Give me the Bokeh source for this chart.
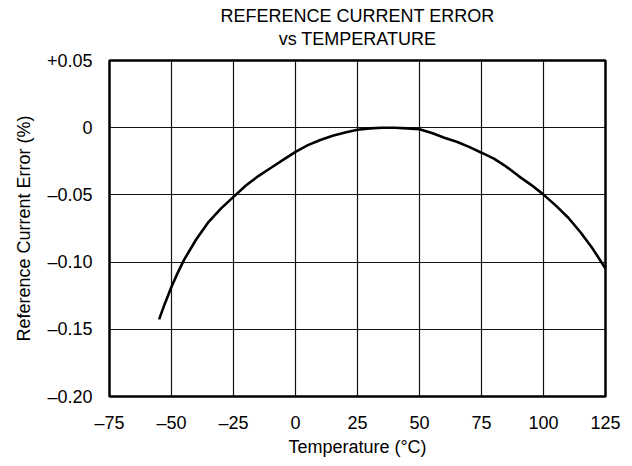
from bokeh.plotting import figure
from bokeh.models import FixedTicker, Range1d, Title
from bokeh.embed import file_html
from bokeh.resources import INLINE

# ---- data ----
temperature_c = [-55, -52.5, -50, -47.5, -45, -40, -35, -30, -25, -20, -15, -10, -5,
                 0, 5, 10, 15, 20, 25, 30, 35, 40, 45, 50, 55, 60, 65, 70, 75,
                 80, 85, 90, 95, 100, 105, 110, 115, 120, 125]
error_pct = [-0.1426, -0.130, -0.1184, -0.108, -0.0985, -0.083, -0.070, -0.060, -0.0515,
             -0.043, -0.036, -0.030, -0.024, -0.018, -0.013, -0.0092, -0.006, -0.0036,
             -0.0015, -0.0005, 0.0, 0.0, -0.0005, -0.0012, -0.004, -0.0075, -0.0105,
             -0.0143, -0.0186, -0.023, -0.029, -0.036, -0.0425, -0.0498, -0.058,
             -0.067, -0.078, -0.0905, -0.1048]

x_ticks = [-75, -50, -25, 0, 25, 50, 75, 100, 125]
x_tick_labels = ["\u201375", "\u201350", "\u201325", "0", "25", "50", "75", "100", "125"]
y_ticks = [-0.2, -0.15, -0.1, -0.05, 0, 0.05]
y_tick_labels = ["\u20130.20", "\u20130.15", "\u20130.10", "\u20130.05", "0", "+0.05"]

title_lines = ["REFERENCE CURRENT ERROR", "vs TEMPERATURE"]
x_label = "Temperature (\u00b0C)"
y_label = "Reference Current Error (%)"

FONT = "Liberation Sans"

p = figure(width=632, height=466, output_backend="svg", toolbar_location=None,
           x_range=Range1d(-75, 125), y_range=Range1d(-0.2, 0.05),
           min_border_left=109, min_border_right=27, min_border_top=60,
           min_border_bottom=70, title=None)
p.background_fill_color = "white"
p.border_fill_color = "white"
p.outline_line_color = "black"
p.outline_line_width = 2.5

for ax in (p.xaxis[0], p.yaxis[0]):
    ax.axis_line_color = None
    ax.major_tick_line_color = None
    ax.minor_tick_line_color = None
    ax.major_tick_in = 0
    ax.major_tick_out = 0
    ax.minor_tick_in = 0
    ax.minor_tick_out = 0
    ax.major_label_text_font = FONT
    ax.major_label_text_font_size = "18px"
    ax.major_label_text_color = "black"
    ax.axis_label_text_font = FONT
    ax.axis_label_text_font_size = "18px"
    ax.axis_label_text_font_style = "normal"
    ax.axis_label_text_color = "black"

p.xaxis.ticker = FixedTicker(ticks=x_ticks)
p.xaxis.major_label_overrides = dict(zip(x_ticks, x_tick_labels))
p.xaxis.major_label_standoff = 16
p.xaxis.axis_label = x_label
p.xaxis.axis_label_standoff = 1

p.yaxis.ticker = FixedTicker(ticks=y_ticks)
p.yaxis.major_label_overrides = dict(zip(y_ticks, y_tick_labels))
p.yaxis.major_label_standoff = 17
p.yaxis.axis_label = y_label
p.yaxis.axis_label_standoff = 10

p.xgrid.ticker = FixedTicker(ticks=x_ticks)
p.ygrid.ticker = FixedTicker(ticks=y_ticks)
for g in (p.xgrid[0], p.ygrid[0]):
    g.grid_line_color = "#111111"
    g.grid_line_width = 1.2
    g.grid_line_alpha = 1.0

p.line(temperature_c, error_pct, line_color="black", line_width=2.6)

# two-line title, centred over the plot frame (inner line added first)
p.add_layout(Title(text=title_lines[1], align="center", text_font=FONT,
                   text_font_size="18px", text_font_style="normal",
                   text_color="black", standoff=24), "above")
p.add_layout(Title(text=title_lines[0], align="center", text_font=FONT,
                   text_font_size="18px", text_font_style="normal",
                   text_color="black", standoff=-22), "above")

open("out.html", "w").write(file_html(p, INLINE))
